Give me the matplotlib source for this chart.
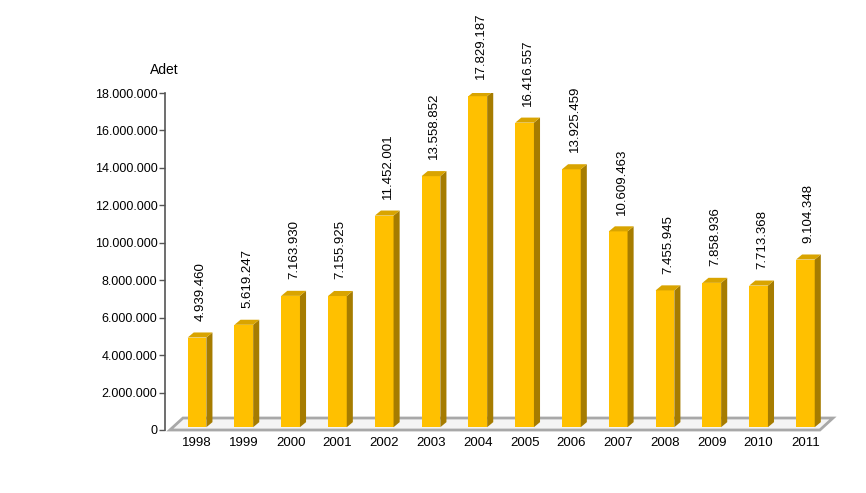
import numpy as np
import matplotlib.pyplot as plt
from matplotlib.patches import Polygon

plt.rcParams['font.family'] = ['Liberation Sans', 'DejaVu Sans']

years = ['1998', '1999', '2000', '2001', '2002', '2003', '2004',
         '2005', '2006', '2007', '2008', '2009', '2010', '2011']
values = [4939460, 5619247, 7163930, 7155925, 11452001, 13558852, 17829187,
          16416557, 13925459, 10609463, 7455945, 7858936, 7713368, 9104348]
yticks = np.arange(0, 18000001, 2000000)


def fmt(v):
    return '{:,}'.format(int(v)).replace(',', '.')


fig = plt.figure(figsize=(8.66, 4.93), dpi=100)
ax = fig.add_axes([165 / 866, 63 / 493, 675 / 866, 337 / 493])
ax.set_xlim(-0.684, 13.74)
ax.set_ylim(0, 18000000)

# 3d derinlik (veri birimi)
dx = 0.13
dy = 270000
w = 0.20
base = 150000

# zemin
floor = Polygon([(-0.58, 0), (-0.30, 640000), (13.59, 640000), (13.31, 0)],
                closed=True, facecolor='#f4f4f4', edgecolor='#a8a8a8',
                linewidth=2, zorder=1, clip_on=False)
ax.add_patch(floor)

for i, v in enumerate(values):
    front = Polygon([(i - w, base), (i + w, base), (i + w, v), (i - w, v)],
                    closed=True, facecolor='#ffc000', edgecolor='none', zorder=3)
    side = Polygon([(i + w, base), (i + w + dx, base + dy), (i + w + dx, v + dy), (i + w, v)],
                   closed=True, facecolor='#a67c00', edgecolor='none', zorder=3)
    top = Polygon([(i - w, v), (i + w, v), (i + w + dx, v + dy), (i - w + dx, v + dy)],
                  closed=True, facecolor='#d9a400', edgecolor='none', zorder=3)
    ax.add_patch(front)
    ax.add_patch(side)
    ax.add_patch(top)
    ax.text(i + 0.07, v + 900000, fmt(v), rotation=90, ha='center', va='bottom',
            fontsize=9.5, color='#000000', zorder=4)

ax.set_xticks(range(len(years)))
ax.set_xticklabels(years, fontsize=9.5)
ax.tick_params(axis='x', length=0, pad=5)
ax.set_yticks(yticks)
ax.set_yticklabels([fmt(t) for t in yticks], fontsize=9)
ax.tick_params(axis='y', length=4.5, width=1, color='#555555', pad=1)

for s in ['top', 'right', 'bottom']:
    ax.spines[s].set_visible(False)
ax.spines['left'].set_color('#555555')
ax.spines['left'].set_linewidth(1.2)

fig.text(150 / 866, 1 - 70 / 493, 'Adet', fontsize=10, ha='left', va='center')

fig.savefig('out.png', dpi=100)
